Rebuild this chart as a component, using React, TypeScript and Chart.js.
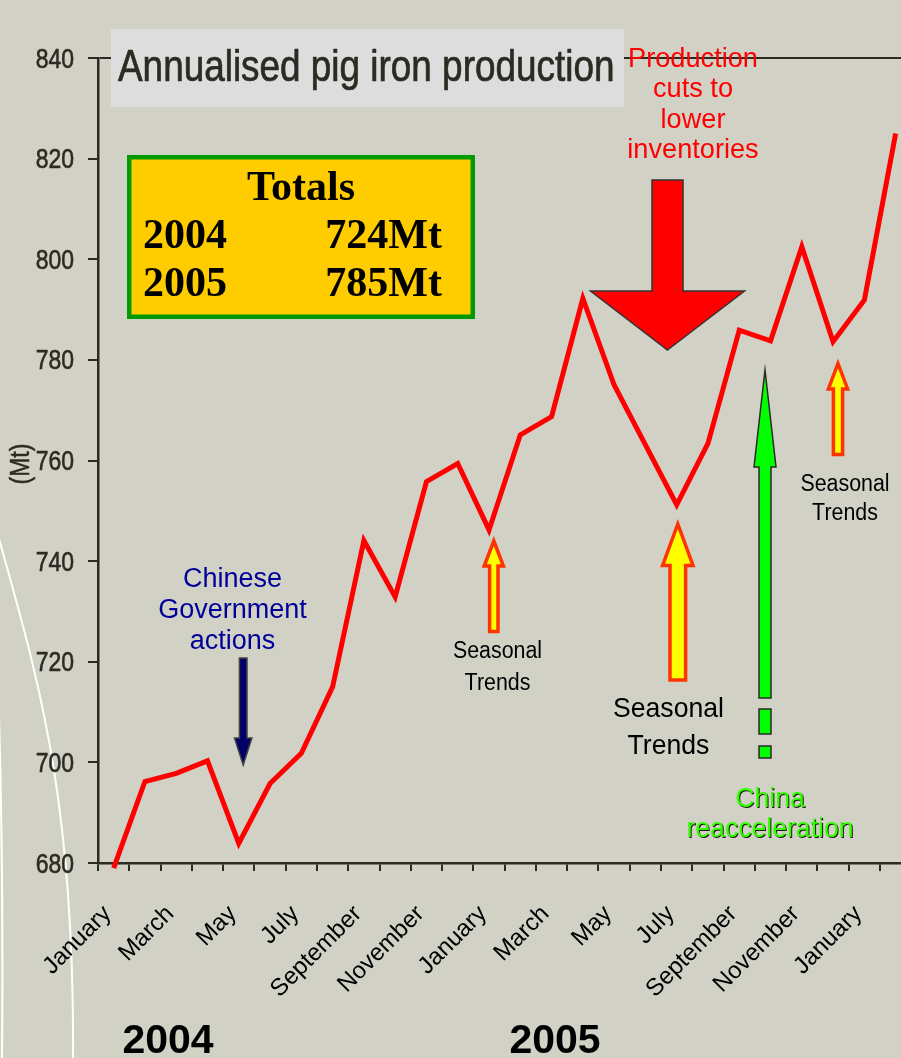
import React, { useEffect, useRef } from 'react';
import { Chart, registerables } from 'chart.js';

Chart.register(...registerables);

// ---------- data ----------
const MONTHS = [
  'January', 'February', 'March', 'April', 'May', 'June', 'July', 'August', 'September', 'October', 'November', 'December',
  'January', 'February', 'March', 'April', 'May', 'June', 'July', 'August', 'September', 'October', 'November', 'December',
  'January', 'February',
];
const PRODUCTION = [
  679, 696.2, 697.8, 700.3, 683.9, 695.8, 701.8, 715, 744.1, 732.9, 755.8, 759.4,
  746.2, 765.1, 768.7, 792.2, 775, 763.1, 751.2, 763.4, 785.9, 783.8, 802.5, 783.6,
  791.9, 825,
];
const Y_MIN = 680;
const Y_MAX = 840;
const Y_STEP = 20;
const TOTAL_YEARS = ['2004', '2005'];
const TOTAL_VALUES = ['724Mt', '785Mt'];
const YEAR_LABELS = ['2004', '2005'];

// ---------- style ----------
const CANVAS_W = 960;
const CANVAS_H = 1058;
const BG = 'rgb(210,209,198)';
const DARK = '#2b2b23';
const SANS = '"Liberation Sans", Arial, sans-serif';
const SERIF = '"Liberation Serif", "Times New Roman", serif';
const NARROW_SX = 0.82;

type Ctx = CanvasRenderingContext2D;

function text(
  ctx: Ctx, s: string, x: number, y: number, font: string, color: string,
  align: CanvasTextAlign = 'center', sx = 1, baseline: CanvasTextBaseline = 'alphabetic', boldStroke = 0,
) {
  ctx.save();
  ctx.translate(x, y);
  ctx.scale(sx, 1);
  ctx.font = font;
  ctx.fillStyle = color;
  ctx.textAlign = align;
  ctx.textBaseline = baseline;
  ctx.fillText(s, 0, 0);
  if (boldStroke > 0) {
    ctx.strokeStyle = color;
    ctx.lineWidth = boldStroke;
    ctx.lineJoin = 'round';
    ctx.strokeText(s, 0, 0);
  }
  ctx.restore();
}

function arrowPath(ctx: Ctx, cx: number, tipY: number, headBaseY: number, headHalf: number, shaftHalf: number, endY: number) {
  ctx.beginPath();
  ctx.moveTo(cx, tipY);
  ctx.lineTo(cx + headHalf, headBaseY);
  ctx.lineTo(cx + shaftHalf, headBaseY);
  ctx.lineTo(cx + shaftHalf, endY);
  ctx.lineTo(cx - shaftHalf, endY);
  ctx.lineTo(cx - shaftHalf, headBaseY);
  ctx.lineTo(cx - headHalf, headBaseY);
  ctx.closePath();
}

function drawArrow(ctx: Ctx, cx: number, tipY: number, headBaseY: number, headHalf: number, shaftHalf: number, endY: number, fill: string, stroke: string, lw: number) {
  arrowPath(ctx, cx, tipY, headBaseY, headHalf, shaftHalf, endY);
  ctx.fillStyle = fill;
  ctx.fill();
  ctx.lineJoin = 'miter';
  ctx.strokeStyle = stroke;
  ctx.lineWidth = lw;
  ctx.stroke();
}

const decor = {
  id: 'decor',
  beforeDraw(chart: any) {
    const ctx: Ctx = chart.ctx;
    ctx.save();
    ctx.strokeStyle = '#ffffff';
    ctx.lineWidth = 2;
    ctx.beginPath();
    ctx.moveTo(-2, 535);
    ctx.bezierCurveTo(35, 670, 75, 790, 73, 1062);
    ctx.stroke();
    ctx.beginPath();
    ctx.moveTo(-3, 650);
    ctx.quadraticCurveTo(4, 850, 2, 1062);
    ctx.stroke();
    ctx.restore();
  },
  afterDraw(chart: any) {
    const ctx: Ctx = chart.ctx;
    ctx.save();

    // y tick labels (narrow face)
    const ys = chart.scales.y;
    ys.ticks.forEach((t: any) => {
      const py = ys.getPixelForValue(t.value);
      text(ctx, String(t.value), 74, py + 9.5, `28px ${SANS}`, DARK, 'right', NARROW_SX, 'alphabetic', 0.6);
    });

    // title box
    ctx.fillStyle = '#dddddd';
    ctx.fillRect(111, 29, 513, 78);
    text(ctx, 'Annualised pig iron production', 118, 81, `45px ${SANS}`, DARK, 'left', NARROW_SX, 'alphabetic', 0.7);

    // totals box
    ctx.fillStyle = '#ffcc00';
    ctx.fillRect(127, 155, 348, 164);
    ctx.strokeStyle = '#009900';
    ctx.lineWidth = 4.5;
    ctx.strokeRect(129.25, 157.25, 343.5, 159.5);
    const tf = `bold 42px ${SERIF}`;
    text(ctx, 'Totals', 301, 200, tf, '#000');
    TOTAL_YEARS.forEach((yr, i) => {
      text(ctx, yr, 143, 248 + i * 48, tf, '#000', 'left');
      text(ctx, TOTAL_VALUES[i], 442, 248 + i * 48, tf, '#000', 'right');
    });

    // (Mt)
    ctx.save();
    ctx.translate(22, 464);
    ctx.rotate(-Math.PI / 2);
    text(ctx, '(Mt)', 0, 0, `27px ${SANS}`, DARK, 'center', 0.85, 'middle', 0.5);
    ctx.restore();

    // red production cut annotation
    ['Production', 'cuts to', 'lower', 'inventories'].forEach((s, i) => {
      text(ctx, s, 693, 67 + i * 30.4, `28px ${SANS}`, '#ff0000', 'center', 0.97);
    });
    drawArrow(ctx, 667.5, 350, 291, 77, 15.5, 180, '#ff0000', '#333333', 1.5);

    // Chinese government actions
    ['Chinese', 'Government', 'actions'].forEach((s, i) => {
      text(ctx, s, 232.5, 587 + i * 30.8, `27px ${SANS}`, '#000099');
    });
    drawArrow(ctx, 243.2, 765, 738, 8.7, 3.8, 658, '#000066', '#444444', 1.5);

    // seasonal arrows
    drawArrow(ctx, 493.8, 541, 566, 9.6, 4.2, 631.5, '#ffff00', '#ff3300', 3.5);
    drawArrow(ctx, 677.8, 524, 565.5, 15.2, 7.8, 680, '#ffff00', '#ff3300', 3.5);
    drawArrow(ctx, 838, 363.5, 389, 9.6, 4.6, 454.5, '#ffff00', '#ff3300', 3.5);

    const sf = `23px ${SANS}`;
    text(ctx, 'Seasonal', 497.5, 658.3, sf, '#000', 'center', 0.93);
    text(ctx, 'Trends', 497.5, 690, sf, '#000', 'center', 0.93);
    const bf = `28px ${SANS}`;
    text(ctx, 'Seasonal', 668.5, 716.7, bf, '#000', 'center', 0.95);
    text(ctx, 'Trends', 668.5, 754, bf, '#000', 'center', 0.95);
    text(ctx, 'Seasonal', 845, 490.7, sf, '#000', 'center', 0.93);
    text(ctx, 'Trends', 845, 520, sf, '#000', 'center', 0.93);

    // green China arrow
    drawArrow(ctx, 765, 370, 467, 11, 6, 698, '#00ff00', DARK, 1.5);
    ctx.fillStyle = '#00ff00';
    ctx.strokeStyle = DARK;
    ctx.lineWidth = 1.5;
    [[709, 734], [746, 758]].forEach(([a, b]) => {
      ctx.fillRect(759, a, 12, b - a);
      ctx.strokeRect(759, a, 12, b - a);
    });
    const gf = `28px ${SANS}`;
    ['China', 'reacceleration'].forEach((s, i) => {
      text(ctx, s, 771, 808 + i * 30, gf, '#1a1a10', 'center', 0.95);
      text(ctx, s, 770, 807 + i * 30, gf, '#33ff00', 'center', 0.95);
    });

    // year labels
    const yf = `bold 41px ${SANS}`;
    text(ctx, YEAR_LABELS[0], 168, 1053, yf, '#000');
    text(ctx, YEAR_LABELS[1], 555, 1053, yf, '#000');

    ctx.restore();
  },
};

export default function App() {
  const ref = useRef<HTMLCanvasElement>(null);
  useEffect(() => {
    const canvas = ref.current;
    if (!canvas) return;
    const chart = new Chart(canvas, {
      type: 'line',
      data: {
        labels: MONTHS,
        datasets: [
          {
            data: PRODUCTION,
            borderColor: '#ff0000',
            borderWidth: 5,
            pointRadius: 0,
            pointHoverRadius: 0,
            tension: 0,
            fill: false,
            clip: false as any,
            borderJoinStyle: 'miter',
          },
        ],
      },
      options: {
        responsive: false,
        animation: false,
        events: [],
        layout: { padding: { left: 0, right: CANVAS_W - 911.3, top: 58, bottom: 0 } },
        plugins: { legend: { display: false }, tooltip: { enabled: false }, title: { display: false } },
        scales: {
          x: {
            type: 'category',
            offset: true,
            grid: { offset: true, drawOnChartArea: false, drawTicks: true, tickLength: 8, color: DARK, lineWidth: 2 },
            border: { display: true, color: DARK, width: 2.5 },
            ticks: {
              autoSkip: false,
              maxRotation: 45,
              minRotation: 45,
              padding: 29,
              labelOffset: -6,
              color: '#000',
              font: { family: SANS, size: 24 },
              callback: (_v: any, i: number) => (i % 2 === 0 ? MONTHS[i] : ''),
            },
            afterFit: (s: any) => {
              s.height = 195;
            },
          },
          y: {
            min: Y_MIN,
            max: Y_MAX,
            ticks: { stepSize: Y_STEP, padding: 14, color: 'rgba(0,0,0,0)', font: { family: SANS, size: 24 } },
            grid: {
              drawOnChartArea: true,
              color: (c: any) => (c.tick && c.tick.value === Y_MAX ? DARK : 'rgba(0,0,0,0)'),
              tickColor: DARK,
              tickLength: 10,
              lineWidth: 2,
            },
            border: { display: true, color: DARK, width: 2.5 },
            afterFit: (s: any) => {
              s.width = 98;
            },
          },
        },
      },
      plugins: [decor],
    } as any);
    return () => chart.destroy();
  }, []);

  return (
    <div style={{ position: 'fixed', left: 0, top: 0, width: 901, height: 1058, overflow: 'hidden', background: BG }}>
      <canvas ref={ref} width={CANVAS_W} height={CANVAS_H} style={{ width: CANVAS_W, height: CANVAS_H, display: 'block' }} />
    </div>
  );
}
